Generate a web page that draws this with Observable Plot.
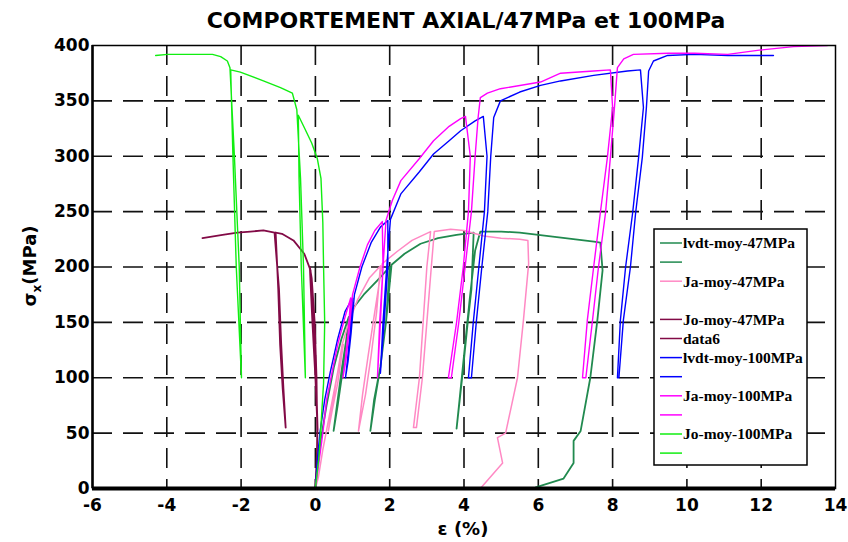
<!DOCTYPE html>
<html><head><meta charset="utf-8">
<script src="https://cdn.jsdelivr.net/npm/d3@7"></script>
<script src="https://cdn.jsdelivr.net/npm/@observablehq/plot@0.6"></script>
<style>
body{margin:0;background:#fff;}
#wrap{width:848px;height:542px;}
</style></head><body><div id="wrap"></div>
<script>
// ---- data: [strain %, stress MPa] ----
const lvdt47 = [[0,0],[0.05,20],[0.15,45],[0.3,75],[0.5,110],[0.7,135],[0.9,155],
  [0.75,110],[0.6,75],[0.49,52],[0.58,75],[0.72,110],[0.88,145],[0.95,160],[1.3,175],[1.67,188],[2.0,200],
  [1.9,150],[1.75,110],[1.6,80],[1.48,52],[1.58,80],[1.75,110],[1.9,150],[2.05,202],[2.4,212],[2.83,221],
  [3.3,226],[3.8,229],[4.26,231],[4.2,180],[4.1,150],[3.95,100],[3.8,54],[3.88,80],[4.0,120],[4.15,170],
  [4.3,215],[4.44,232],[5,232],[5.5,231],[6,229],[6.5,227],[7,225],[7.5,223],[7.67,222],
  [7.73,197],[7.59,152],[7.4,100],[7.14,52],[6.95,43],[6.95,23],[6.68,9],[5.93,1],[5.9,0]];
const ja47 = [[0,0],[0.08,10],[0.2,35],[0.4,70],[0.6,105],[0.75,130],[0.6,95],[0.45,70],[0.35,52],
  [0.45,75],[0.6,105],[0.72,130],[0.9,150],[1.13,170],[1.45,190],[1.75,201],[1.65,160],[1.5,120],[1.35,85],
  [1.16,52],[1.27,85],[1.42,120],[1.6,160],[1.8,203],[2.2,214],[2.6,224],[3.1,232],[3.0,200],[2.9,150],
  [2.8,100],[2.64,55],[2.72,55],[2.88,100],[3.0,150],[3.12,200],[3.2,232],[3.64,234],[4.0,233],[4.53,228],
  [5.0,226],[5.5,225],[5.72,224],[5.74,203],[5.6,152],[5.44,100],[5.12,50],[4.9,46],[5.04,23],[4.44,0]];
const jo47 = [[0,0],[0.04,30],[0.05,50],[0.03,100],[-0.02,150],[-0.1,190],[-0.15,200],[-0.08,150],[0,100],
  [0.06,52],[0.02,100],[-0.05,150],[-0.13,197],[-0.3,212],[-0.59,224],[-0.9,230],[-1.07,231]];
const data6 = [[-1.07,231],[-1.0,180],[-0.95,130],[-0.88,90],[-0.8,55],[-0.86,90],[-0.92,130],[-0.98,180],
  [-1.1,231],[-1.4,233],[-1.75,232],[-2.1,231],[-2.5,229],[-3.04,226]];
const lvdt100 = [[0,0],[0.05,25],[0.12,50],[0.25,80],[0.4,105],[0.6,135],[0.8,160],[1.0,172],[0.93,140],
  [0.86,115],[0.81,100],[0.88,115],[0.96,140],[1.05,175],[1.25,200],[1.5,222],[1.75,236],[1.95,242],
  [1.95,200],[1.85,150],[1.75,104],[1.82,150],[1.92,200],[2.02,243],[2.3,266],[2.8,286],[3.18,302],
  [3.6,314],[3.91,323],[4.3,332],[4.52,336],[4.62,300],[4.55,250],[4.4,200],[4.25,150],[4.12,100],
  [4.2,100],[4.33,150],[4.48,200],[4.64,250],[4.72,300],[4.8,335],[4.98,350],[5.5,358],[6.06,364],
  [6.6,368],[7.49,373],[8.4,377],[8.75,378],[8.83,344],[8.7,299],[8.54,249],[8.35,200],[8.21,152],
  [8.13,100],[8.17,100],[8.29,152],[8.48,200],[8.62,249],[8.8,299],[8.91,344],[8.97,377],[9.1,386],
  [9.48,391],[10.2,392],[11.1,391],[12.33,391]];
const ja100 = [[0,0],[0.1,25],[0.2,50],[0.3,80],[0.45,105],[0.6,130],[0.8,155],[0.95,172],[0.88,140],
  [0.8,115],[0.74,100],[0.82,115],[0.9,140],[1.0,175],[1.2,200],[1.4,220],[1.6,233],[1.8,241],[1.82,200],
  [1.75,150],[1.67,100],[1.73,150],[1.82,200],[1.9,242],[2.07,260],[2.3,278],[2.8,298],[3.18,314],
  [3.6,327],[3.91,334],[4.04,336],[4.17,300],[4.12,250],[3.98,200],[3.8,150],[3.58,100],[3.66,100],
  [3.86,150],[4.03,200],[4.2,250],[4.3,300],[4.38,335],[4.44,353],[4.63,357],[4.98,361],[6.06,367],
  [6.6,375],[7.49,377],[7.94,378],[8.0,344],[7.86,299],[7.67,249],[7.49,200],[7.32,152],[7.19,100],
  [7.28,100],[7.46,152],[7.62,200],[7.81,249],[7.94,299],[8.05,344],[8.13,380],[8.3,388],[8.56,392],
  [9.5,393],[10.2,393],[11.1,392],[12.0,396],[12.87,399],[13.78,400]];
const jo100 = [[0,0],[0.1,30],[0.22,95],[0.25,150],[0.22,200],[0.2,240],[0.15,280],[0.05,298],[-0.1,312],
  [-0.3,326],[-0.46,337],[-0.44,280],[-0.38,200],[-0.27,100],[-0.32,200],[-0.4,280],[-0.5,342],[-0.62,357],
  [-0.94,362],[-1.4,368],[-2.02,376],[-2.28,378],[-2.22,300],[-2.13,200],[-1.99,100],[-2.05,200],
  [-2.18,300],[-2.3,380],[-2.37,386],[-2.55,390],[-2.77,392],[-3.98,392],[-4.3,391]];

const legendLabels = ["lvdt-moy-47MPa","","Ja-moy-47MPa","","Jo-moy-47MPa","data6",
  "lvdt-moy-100MPa","","Ja-moy-100MPa","","Jo-moy-100MPa",""];
const legendColors = ["#218a4f","#218a4f","#ff89c4",null,"#820a46","#820a46",
  "#0000ff","#0000ff","#ff00ff","#ff00ff","#11ee11","#11ee11"];

const xTicks = d3.range(-6, 15, 2);
const yTicks = d3.range(0, 401, 50);
const title = "COMPORTEMENT AXIAL/47MPa et 100MPa";

const series = [
  {pts: lvdt47, color: "#218a4f", w: 1.8},
  {pts: ja47, color: "#ff89c4", w: 1.5},
  {pts: jo47, color: "#820a46", w: 1.8},
  {pts: data6, color: "#820a46", w: 1.8},
  {pts: lvdt100, color: "#0000ff", w: 1.4},
  {pts: ja100, color: "#ff00ff", w: 1.4},
  {pts: jo100, color: "#11ee11", w: 1.4}
];

const gridStyle = {stroke: "#111", strokeOpacity: 1, strokeWidth: 1.6, strokeDasharray: "20,11"};
const plot = Plot.plot({
  width: 848, height: 542,
  marginLeft: 92, marginRight: 13, marginTop: 45, marginBottom: 54,
  x: {domain: [-6, 14], label: null},
  y: {domain: [0, 400], label: null},
  style: {background: "#fff", fontFamily: "DejaVu Sans, sans-serif", color: "#000"},
  marks: [
    Plot.gridX(xTicks.slice(1, -1), gridStyle),
    Plot.gridY(yTicks.slice(1, -1), gridStyle),
    Plot.axisX(xTicks, {tickSize: 0, tickPadding: 10, fontSize: 17, fontWeight: "bold", label: null,
      tickFormat: d => String(d)}),
    Plot.axisY(yTicks, {tickSize: 0, tickPadding: 3, fontSize: 17, fontWeight: "bold", label: null,
      tickFormat: d => String(d)}),
    ...series.map(s => Plot.line(s.pts, {x: d => d[0], y: d => d[1], stroke: s.color, strokeWidth: s.w, clip: true})),
    Plot.frame({stroke: "#000", strokeWidth: 1.5}),
    Plot.ruleY([0], {stroke: "#000", strokeWidth: 4}),
    Plot.ruleX([-6], {stroke: "#000", strokeWidth: 2.5})
  ]
});
document.getElementById("wrap").appendChild(plot);

const svg = d3.select(plot);
// title
svg.append("text").attr("x", 466).attr("y", 28).attr("text-anchor", "middle")
  .attr("font-family", "DejaVu Sans, sans-serif").attr("font-weight", "bold")
  .attr("font-size", 22).text(title);
// x label
svg.append("text").attr("x", 463).attr("y", 535).attr("text-anchor", "middle")
  .attr("font-family", "DejaVu Sans, sans-serif").attr("font-weight", "bold")
  .attr("font-size", 18).text("ε (%)");
// y label
const yl = svg.append("text").attr("transform", "translate(36,266) rotate(-90)").attr("text-anchor", "middle")
  .attr("font-family", "DejaVu Sans, sans-serif").attr("font-weight", "bold").attr("font-size", 18);
yl.append("tspan").text("σ");
yl.append("tspan").attr("font-size", 12).attr("dy", 5).text("x");
yl.append("tspan").attr("dy", -5).text("(MPa)");

// legend
const lg = svg.append("g");
const lx = 654, ly = 229, lw = 153, lh = 236;
lg.append("rect").attr("x", lx).attr("y", ly).attr("width", lw).attr("height", lh)
  .attr("fill", "#fff").attr("stroke", "#000").attr("stroke-width", 1.5);
legendLabels.forEach((lab, i) => {
  const ry = ly + 14 + i * 19.1;
  if (legendColors[i]) lg.append("line").attr("x1", lx + 6).attr("x2", lx + 28).attr("y1", ry).attr("y2", ry)
    .attr("stroke", legendColors[i]).attr("stroke-width", 1.5);
  if (lab) lg.append("text").attr("x", lx + 29).attr("y", ry).attr("dy", "0.35em")
    .attr("text-anchor", "start")
    .attr("font-family", "Liberation Serif, Times New Roman, serif").attr("font-weight", "bold")
    .attr("font-size", 15.5).text(lab);
});
</script></body></html>
